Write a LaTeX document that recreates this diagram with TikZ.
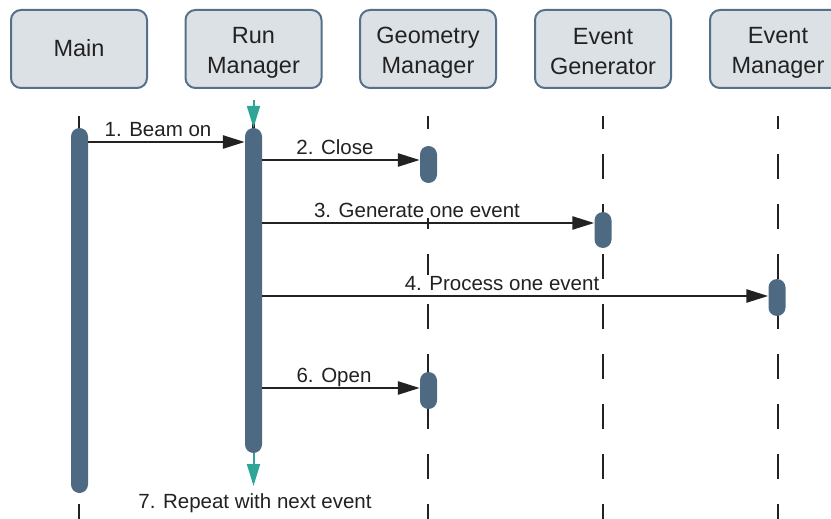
\documentclass[tikz,border=0pt]{standalone}
\usepackage{fontspec}
\setmainfont{Liberation Sans}
\usetikzlibrary{arrows.meta}
\definecolor{boxfill}{HTML}{DCE1E6}
\definecolor{boxline}{HTML}{55708A}
\definecolor{barfill}{HTML}{4E6A83}
\definecolor{teal}{HTML}{2EA597}
\definecolor{ink}{HTML}{222222}
% fixed line heights inside the participant boxes
\newcommand{\boxstrut}{\rule[-6pt]{0pt}{28pt}}
\newcommand{\twostrut}{\rule[-3.5pt]{0pt}{28pt}}
\tikzset{
  actor/.style={draw=boxline, line width=2pt, fill=boxfill, rounded corners=10pt,
    minimum width=136pt, minimum height=78pt, inner sep=0pt, align=center,
    text=ink, font=\fontsize{23.5}{30}\selectfont},
  lifeline/.style={draw=ink, line width=2.6pt, dash pattern=on 25pt off 25pt, dash phase=12pt},
  actbar/.style={fill=barfill, draw=none, rounded corners=8.5pt, minimum width=17pt,
    inner sep=0pt},
  msg/.style={draw=ink, line width=2.6pt, -{Triangle[length=22pt,width=13pt]}},
  loopmark/.style={draw=teal, line width=2pt, -{Triangle[length=22pt,width=13pt]}},
  msglabel/.style={fill=white, inner sep=1pt, anchor=base, text=ink,
    font=\fontsize{20.5}{24}\selectfont},
}
\begin{document}
\begin{tikzpicture}[x=1pt, y=-1pt]
\useasboundingbox (0,0) rectangle (831,519);

% participants
\node[actor] (main) at (79,49)  {\boxstrut Main};
\node[actor] (run)  at (253.5,49) {\twostrut Run\\\twostrut Manager};
\node[actor] (geo)  at (428,49) {\twostrut Geometry\\\twostrut Manager};
\node[actor] (gen)  at (603,49) {\twostrut Event\\\twostrut Generator};
\node[actor] (evm)  at (778,49) {\twostrut Event\\\twostrut Manager};

% lifelines
\coordinate (mainT) at (79,116);   \coordinate (mainB) at (79,519);
\coordinate (runT)  at (253.5,116);\coordinate (runB)  at (253.5,452);
\coordinate (geoT)  at (428,116);  \coordinate (geoB)  at (428,519);
\coordinate (genT)  at (603,116);  \coordinate (genB)  at (603,519);
\coordinate (evmT)  at (778,116);  \coordinate (evmB)  at (778,519);
\foreach \p in {main,run,geo,gen,evm}
  \draw[lifeline] (\p T) -- (\p B);

% activation bars
\node[actbar, minimum height=365pt] (mainbar) at (79.5,310.5) {};
\node[actbar, minimum height=325pt] (runbar)  at (253.5,290.5) {};
\node[actbar, minimum height=37pt]  (geobarA) at (428.5,164.5) {};
\node[actbar, minimum height=36pt]  (genbar)  at (603,230) {};
\node[actbar, minimum height=37pt]  (evmbar)  at (777,297.5) {};
\node[actbar, minimum height=37pt]  (geobarB) at (428.5,390.5) {};

% messages
\draw[msg] (mainbar.east |- 0,142) -- (runbar.west |- 0,142);
\draw[msg] (runbar.east |- 0,160)  -- (geobarA.west |- 0,160);
\draw[msg] (runbar.east |- 0,223)  -- (genbar.west |- 0,223);
\draw[msg] (runbar.east |- 0,296)  -- (evmbar.west |- 0,296);
\draw[msg] (runbar.east |- 0,388)  -- (geobarB.west |- 0,388);

\node[msglabel] (l1) at (158,136) {1. Beam on};
\node[msglabel] (l2) at (335,154) {2. Close};
\node[msglabel] (l3) at (417,217) {3. Generate one event};
\node[msglabel] (l4) at (502,290) {4. Process one event};
\node[msglabel] (l6) at (334,382) {6. Open};

% event loop markers
\coordinate (loopIn) at (253.5,100);
\coordinate (loopOut) at (253.5,486);
\draw[loopmark] (loopIn) -- (runbar.north);
\draw[loopmark] (runbar.south) -- (loopOut);
\node[msglabel] (l7) at (255,508) {7. Repeat with next event};
\end{tikzpicture}
\end{document}
